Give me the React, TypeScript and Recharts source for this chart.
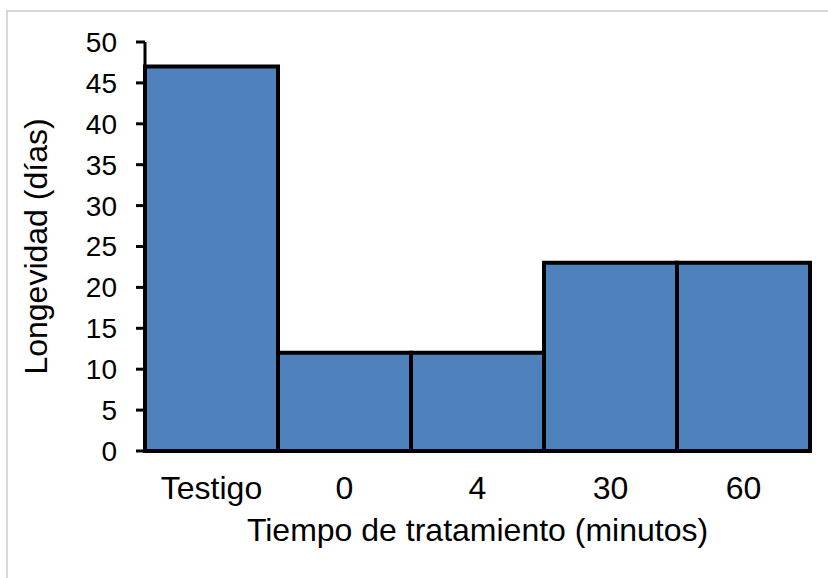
import { BarChart, Bar, XAxis, YAxis, Label } from "recharts";

const categories = ["Testigo", "0", "4", "30", "60"];
const longevity = [47, 12, 12, 23, 23];
const yTicks = [0, 5, 10, 15, 20, 25, 30, 35, 40, 45, 50];

const data = categories.map((name, i) => ({ name, dias: longevity[i] }));

const FONT = "Arial, 'Liberation Sans', sans-serif";

const App = () => {
  return (
    <div
      style={{
        position: "absolute",
        left: 0,
        top: 0,
        width: 828,
        height: 578,
        background: "#fff",
        fontFamily: FONT,
        overflow: "hidden",
      }}
    >
      {/* light frame around the plot */}
      <div
        style={{
          position: "absolute",
          left: 6,
          top: 10,
          width: 840,
          height: 600,
          borderTop: "2px solid #d9d9d9",
          borderLeft: "2px solid #d9d9d9",
        }}
      />
      <BarChart
        width={828}
        height={578}
        data={data}
        barCategoryGap={0}
        margin={{ top: 42, right: 18, bottom: 0, left: 0 }}
        style={{ position: "absolute", left: 0, top: 0 }}
      >
        <XAxis
          dataKey="name"
          height={127}
          tickLine={false}
          tickSize={0}
          tickMargin={25}
          axisLine={{ stroke: "#000", strokeWidth: 4 }}
          tick={{ fill: "#000", fontSize: 32, fontFamily: FONT }}
        >
          <Label
            value="Tiempo de tratamiento (minutos)"
            position="insideBottom"
            offset={37}
            fill="#000"
            fontSize={32}
            fontFamily={FONT}
          />
        </XAxis>
        <YAxis
          width={145}
          domain={[0, 50]}
          ticks={yTicks}
          interval={0}
          tickSize={9}
          tickMargin={19}
          axisLine={{ stroke: "#000", strokeWidth: 3 }}
          tickLine={{ stroke: "#000", strokeWidth: 3 }}
          tick={{ fill: "#000", fontSize: 28, fontFamily: FONT }}
        >
          <Label
            content={({ viewBox }: any) => {
              const cx = 47;
              const cy = viewBox.y + viewBox.height / 2;
              return (
                <text
                  x={cx}
                  y={cy}
                  transform={`rotate(-90 ${cx} ${cy})`}
                  textAnchor="middle"
                  fill="#000"
                  fontSize={32}
                  fontFamily={FONT}
                >
                  Longevidad (días)
                </text>
              );
            }}
          />
        </YAxis>
        <Bar
          dataKey="dias"
          fill="#4F81BD"
          stroke="#000"
          strokeWidth={4}
          isAnimationActive={false}
        />
      </BarChart>
    </div>
  );
};

export default App;
